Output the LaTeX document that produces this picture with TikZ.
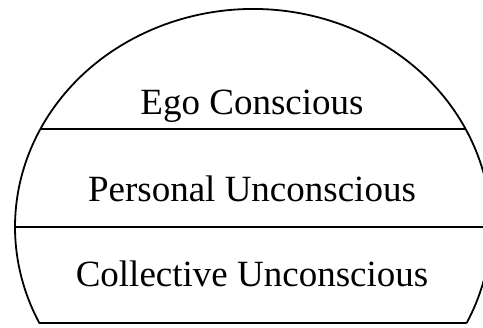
\documentclass[tikz,border=0pt]{standalone}
\usepackage{fontspec}
\setmainfont{Liberation Serif}
\begin{document}
\begin{tikzpicture}[x=1pt,y=1pt,
  layer/.style={font=\fontsize{37}{44}\selectfont,anchor=base}]
  \def\Cx{253}\def\Cy{101}\def\A{238}\def\B{218}\def\T{26.13}
  \useasboundingbox (0,0) rectangle (483,328);
  \clip (0,0) rectangle (483,328);
  % dome
  \coordinate (se) at ({\Cx+\A*cos(\T)},5);
  \coordinate (sw) at ({\Cx-\A*cos(\T)},5);
  \draw[line width=1.8pt,line join=round] (se)
    arc[start angle=-\T,end angle=180+\T,x radius=\A pt,y radius=\B pt] -- (se);
  % layers
  \coordinate (aw) at ({\Cx-\A*cos(26.71)},199);
  \coordinate (ae) at ({\Cx+\A*cos(26.71)},199);
  \coordinate (bw) at (\Cx-\A,\Cy);
  \coordinate (be) at (\Cx+\A,\Cy);
  \draw[line width=1.5pt] (aw) -- (ae);
  \draw[line width=1.5pt] (bw) -- (be);
  \node[layer] (ego) at (252,213) {Ego Conscious};
  \node[layer] (pers) at (252,126) {Personal Unconscious};
  \node[layer] (coll) at (252,41) {Collective Unconscious};
\end{tikzpicture}
\end{document}
